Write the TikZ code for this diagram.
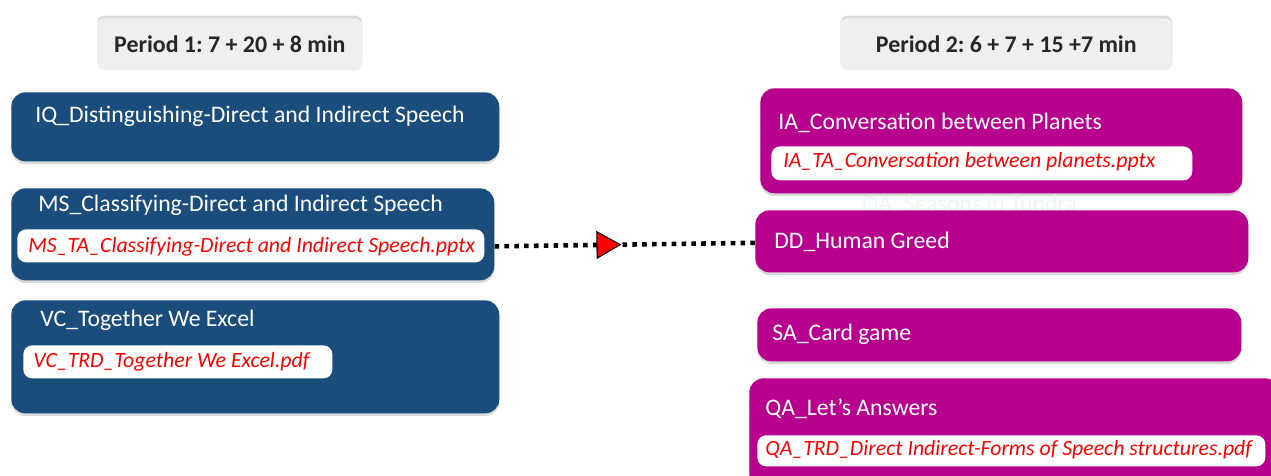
\documentclass[tikz,border=0pt]{standalone}
\usepackage{fontspec}
\setmainfont{Carlito}
\usetikzlibrary{positioning}
\usetikzlibrary{decorations.markings}
\usetikzlibrary{arrows.meta}
\usetikzlibrary{shadows}
\frenchspacing

\definecolor{taskblue}{RGB}{26,76,124}
\definecolor{taskpink}{RGB}{184,0,142}
\definecolor{headgray}{RGB}{239,239,239}
\definecolor{ghostgreen}{RGB}{238,249,238}

\tikzset{
  periodbox/.style={fill=headgray, rounded corners=4pt, anchor=north west, inner sep=0pt,
    text=black!85, font=\bfseries\fontsize{13.6}{16}\selectfont,
    drop shadow={shadow xshift=0pt, shadow yshift=1.5pt, opacity=0.3}},
  taskbox/.style={rounded corners=8pt, anchor=north west, inner sep=0pt,
    drop shadow={shadow xshift=0pt, shadow yshift=-1.5pt, opacity=0.3}},
  bluebox/.style={taskbox, fill=taskblue},
  pinkbox/.style={taskbox, fill=taskpink},
  tasktitle/.style={anchor=west, inner sep=0pt, text=white, font=\fontsize{13.5}{16}\selectfont},
  filebox/.style={fill=white, rounded corners=5pt, anchor=north west, inner sep=0pt},
  filetext/.style={anchor=west, inner sep=0pt, text=red, font=\itshape\fontsize{12.4}{15}\selectfont},
  dotlink/.style={line width=2.6pt, dash pattern=on 2.6pt off 3pt,
    postaction={decorate, decoration={markings,
      mark=at position 0.487 with {\arrow{Triangle[length=0.5cm, width=0.56cm, fill=red, line width=0.6pt]}}}}}
}

\begin{document}
\begin{tikzpicture}[x=0.02cm, y=-0.02cm]
\useasboundingbox (0,0) rectangle (1271,476);

% period 1
\node[periodbox, minimum width=5.3cm, minimum height=1.04cm] (periodOne) at (97,18) {Period 1: 7 + 20 + 8 min};

\node[bluebox, minimum width=9.76cm, minimum height=1.38cm] (iqBox) at (11,92) {};
\node[tasktitle] (iqTitle) at (35,116) {IQ\_Distinguishing-Direct and Indirect Speech};

\node[bluebox, minimum width=9.66cm, minimum height=1.84cm] (msBox) at (11,188) {};
\node[tasktitle] (msTitle) at (38,205) {MS\_Classifying-Direct and Indirect Speech};
\node[filebox, minimum width=9.34cm, minimum height=0.66cm] (msFile) at (17,229) {};
\node[filetext] (msFileText) at (28,247) {MS\_TA\_Classifying-Direct and Indirect Speech.pptx};

\node[bluebox, minimum width=9.76cm, minimum height=2.26cm] (vcBox) at (11,300) {};
\node[tasktitle] (vcTitle) at (40,320) {VC\_Together We Excel};
\node[filebox, minimum width=6.18cm, minimum height=0.66cm] (vcFile) at (23,345) {};
\node[filetext] (vcFileText) at (33,362) {VC\_TRD\_Together We Excel.pdf};

% period 2
\node[periodbox, minimum width=6.64cm, minimum height=1.04cm] (periodTwo) at (840,18) {Period 2: 6 + 7 + 15 +7 min};

\node[pinkbox, minimum width=9.64cm, minimum height=2.1cm] (iaBox) at (760,88) {};
\node[tasktitle] (iaTitle) at (778,123) {IA\_Conversation between Planets};
\node[filebox, minimum width=8.42cm, minimum height=0.68cm] (iaFile) at (771,146) {};
\node[filetext] (iaFileText) at (783,162) {IA\_TA\_Conversation between planets.pptx};

\node[tasktitle, text=ghostgreen] (qaGhost) at (862,205) {QA\_Seasons in Tundra};

\node[pinkbox, minimum width=9.86cm, minimum height=1.24cm] (ddBox) at (755,210) {};
\node[tasktitle] (ddTitle) at (774,242) {DD\_Human Greed};

\node[pinkbox, minimum width=9.68cm, minimum height=1.06cm] (saBox) at (757,308) {};
\node[tasktitle] (saTitle) at (772,334) {SA\_Card game};

\node[pinkbox, minimum width=10.6cm, minimum height=2.2cm] (qaBox) at (749,378) {};
\node[tasktitle] (qaTitle) at (765,409) {QA\_Let’s Answers};
\node[filebox, minimum width=10.16cm, minimum height=0.62cm] (qaFile) at (757,435) {};
\node[filetext] (qaFileText) at (765,450) {QA\_TRD\_Direct Indirect-Forms of Speech structures.pdf};

% link
\draw[dotlink] ([yshift=-0.24cm]msBox.east) -- ([yshift=-0.03cm]ddBox.west);

\end{tikzpicture}
\end{document}
